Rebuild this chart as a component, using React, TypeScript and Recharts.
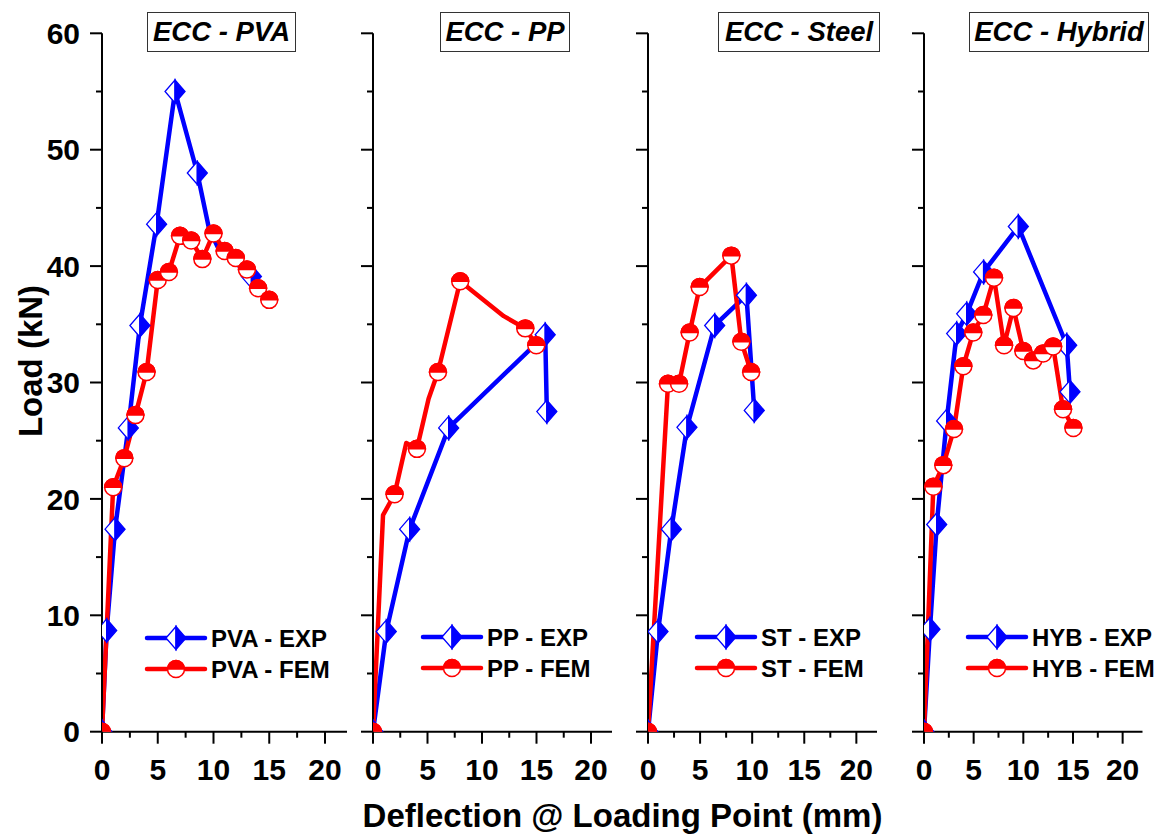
import React from 'react';
import { LineChart, Line, XAxis, YAxis, Legend } from 'recharts';

const BLUE = '#0000ff';
const RED = '#ff0000';
const FONT = '"Liberation Sans", Arial, Helvetica, sans-serif';

// ---- ECC - PVA ----
const pvaExpX = [0, 0.42, 1.17, 2.36, 3.4, 4.9, 6.55, 8.55, 9.6, 10.4, 13.4];
const pvaExpY = [0, 8.7, 17.4, 26.1, 34.9, 43.6, 55, 48, 43.2, 41.6, 39.1];
const pvaExpMarks = [1, 1, 1, 1, 1, 1, 1, 1, 0, 0, 1];
const pvaFemX = [0, 1, 2, 3, 4, 5, 6, 7, 8, 9, 10, 11, 12, 13, 14, 15];
const pvaFemY = [0, 21, 23.5, 27.2, 30.9, 38.8, 39.5, 42.6, 42.2, 40.6, 42.8, 41.3, 40.7, 39.7, 38.1, 37.1];

// ---- ECC - PP ----
const ppExpX = [0, 1.22, 3.36, 6.94, 15.8, 15.95];
const ppExpY = [0, 8.6, 17.4, 26.1, 34.1, 27.5];
const ppFemX = [0, 0.92, 1.98, 3.05, 4.03, 5.1, 5.96, 8.0, 12.0, 13.97, 14.98];
const ppFemY = [0, 18.6, 20.4, 24.8, 24.3, 28.6, 30.9, 38.7, 35.7, 34.65, 33.2];
const ppFemMarks = [1, 0, 1, 0, 1, 0, 1, 1, 0, 1, 1];

// ---- ECC - Steel ----
const stExpX = [0, 0.96, 2.24, 3.74, 6.4, 9.45, 10.2];
const stExpY = [0, 8.6, 17.4, 26.15, 34.9, 37.5, 27.6];
const stFemX = [0, 1.92, 2.98, 4.0, 4.96, 8.0, 8.96, 9.9];
const stFemY = [0, 29.9, 29.9, 34.3, 38.2, 40.9, 33.5, 30.9];

// ---- ECC - Hybrid ----
const hybExpX = [0, 0.6, 1.28, 2.28, 3.29, 4.3, 6.0, 9.5, 14.37, 14.7];
const hybExpY = [0, 8.8, 17.8, 26.7, 34.2, 35.9, 39.5, 43.4, 33.2, 29.2];
const hybFemX = [0, 0.94, 1.94, 3.02, 3.96, 4.96, 5.97, 7.05, 8.06, 9.0, 10.0, 11.0, 12.0, 13.0, 14.0, 15.04];
const hybFemY = [0, 21.05, 22.9, 26.0, 31.4, 34.3, 35.8, 39.0, 33.2, 36.4, 32.7, 31.9, 32.5, 33.1, 27.7, 26.1];

// ---- axes ----
const xTicks = [0, 2.5, 5, 7.5, 10, 12.5, 15, 17.5, 20];
const yTicks = [0, 5, 10, 15, 20, 25, 30, 35, 40, 45, 50, 55, 60];
const xDomain = [0, 22];
const yDomain = [0, 60];

type Pt = { x: number; y: number; m: boolean };
const toRows = (xs: number[], ys: number[], marks?: number[]): Pt[] =>
  xs.map((x, i) => ({ x, y: ys[i], m: marks ? marks[i] === 1 : true }));

const CHART_H = 836;
const PLOT_TOP = 33.3;
const PLOT_BOTTOM = 731.7;
const X_AXIS_H = 60;

const panels = [
  {
    key: 'pva', title: 'ECC - PVA', expName: 'PVA - EXP', femName: 'PVA - FEM',
    exp: toRows(pvaExpX, pvaExpY, pvaExpMarks), fem: toRows(pvaFemX, pvaFemY),
    plotLeft: 102, plotRight: 347.3, yw: 102, labelled: true,
    titleLeft: 147, titleWidth: 147, legendLeft: 146.7, legendTop: 622.7,
  },
  {
    key: 'pp', title: 'ECC - PP', expName: 'PP - EXP', femName: 'PP - FEM',
    exp: toRows(ppExpX, ppExpY), fem: toRows(ppFemX, ppFemY, ppFemMarks),
    plotLeft: 372.7, plotRight: 612.5, yw: 20, labelled: false,
    titleLeft: 440, titleWidth: 128, legendLeft: 423.3, legendTop: 622.3,
  },
  {
    key: 'st', title: 'ECC - Steel', expName: 'ST - EXP', femName: 'ST - FEM',
    exp: toRows(stExpX, stExpY), fem: toRows(stFemX, stFemY),
    plotLeft: 648.3, plotRight: 877.5, yw: 20, labelled: false,
    titleLeft: 718, titleWidth: 160, legendLeft: 696.7, legendTop: 622.3,
  },
  {
    key: 'hyb', title: 'ECC - Hybrid', expName: 'HYB - EXP', femName: 'HYB - FEM',
    exp: toRows(hybExpX, hybExpY), fem: toRows(hybFemX, hybFemY),
    plotLeft: 924, plotRight: 1142.5, yw: 20, labelled: false,
    titleLeft: 969, titleWidth: 178, legendLeft: 968.3, legendTop: 622.3,
  },
];

// ---- markers ----
const DIA_A = 10;
const DIA_B = 11.5;
const CIR_R = 8.5;

const diamondShape = (cx: number, cy: number) => (
  <>
    <polygon
      points={`${cx},${cy - DIA_B} ${cx - DIA_A},${cy} ${cx},${cy + DIA_B}`}
      fill="#fff" stroke={BLUE} strokeWidth={1.3}
    />
    <polygon
      points={`${cx},${cy - DIA_B} ${cx + DIA_A},${cy} ${cx},${cy + DIA_B}`}
      fill={BLUE} stroke={BLUE} strokeWidth={1.3}
    />
  </>
);

const circleShape = (cx: number, cy: number) => (
  <>
    <circle cx={cx} cy={cy} r={CIR_R} fill="#fff" stroke={RED} strokeWidth={1.5} />
    <path
      d={`M${cx - CIR_R},${cy} A${CIR_R},${CIR_R} 0 0 1 ${cx + CIR_R},${cy} Z`}
      fill={RED} stroke={RED} strokeWidth={1.5}
    />
  </>
);

const DiamondDot = (props: any) => {
  const { cx, cy, payload, index } = props;
  if (!payload || !payload.m || cx == null || cy == null) return <g key={`dd-${index}`} />;
  return <g key={`dd-${index}`}>{diamondShape(cx, cy)}</g>;
};

const CircleDot = (props: any) => {
  const { cx, cy, payload, index } = props;
  if (!payload || !payload.m || cx == null || cy == null) return <g key={`cd-${index}`} />;
  return <g key={`cd-${index}`}>{circleShape(cx, cy)}</g>;
};

// ---- ticks: long major ticks, short minor ticks ----
const XTick = (props: any) => {
  const { x, y, payload } = props;
  const v = payload.value;
  const major = v % 5 === 0;
  return (
    <g>
      <line x1={x} x2={x} y1={y} y2={y + (major ? 12 : 6)} stroke="#000" strokeWidth={2} />
      {major && (
        <text x={x} y={y + 48} textAnchor="middle" fontFamily={FONT} fontWeight="bold" fontSize={30} fill="#000">
          {v}
        </text>
      )}
    </g>
  );
};

const makeYTick = (labelled: boolean) => (props: any) => {
  const { x, y, payload } = props;
  const v = payload.value;
  const major = v % 10 === 0;
  return (
    <g>
      <line x1={x - (major ? 12 : 6)} x2={x} y1={y} y2={y} stroke="#000" strokeWidth={2} />
      {labelled && major && (
        <text x={x - 22} y={y + 10.7} textAnchor="end" fontFamily={FONT} fontWeight="bold" fontSize={30} fill="#000">
          {v}
        </text>
      )}
    </g>
  );
};

// ---- legend ----
const LegendBox = (props: any) => {
  const items = props.payload || [];
  return (
    <svg width={200} height={64} style={{ overflow: 'visible', display: 'block' }}>
      {items.map((it: any, i: number) => {
        const cy = 15 + i * 31;
        const isExp = it.color === BLUE;
        return (
          <g key={`lg-${i}`}>
            <line x1={0} x2={58} y1={cy} y2={cy} stroke={it.color} strokeWidth={4.5} strokeLinecap="round" />
            {isExp ? diamondShape(29, cy) : circleShape(29, cy)}
            <text x={64} y={cy + 8.6} fontFamily={FONT} fontWeight="bold" fontSize={24} fill="#000">
              {it.value}
            </text>
          </g>
        );
      })}
    </svg>
  );
};

const Panel = ({ p }: { p: (typeof panels)[number] }) => {
  const chartLeft = p.plotLeft - p.yw;
  const width = p.plotRight - chartLeft;
  return (
    <div style={{ position: 'absolute', left: chartLeft, top: 0 }}>
      <LineChart
        width={width}
        height={CHART_H}
        margin={{ top: PLOT_TOP, right: 0, bottom: CHART_H - PLOT_BOTTOM - X_AXIS_H, left: 0 }}
      >
        <XAxis
          type="number"
          dataKey="x"
          domain={xDomain}
          ticks={xTicks}
          interval={0}
          allowDataOverflow
          height={X_AXIS_H}
          tickLine={false}
          tickSize={0}
          tickMargin={0}
          tick={XTick}
          axisLine={{ stroke: '#000', strokeWidth: 2 }}
        />
        <YAxis
          type="number"
          domain={yDomain}
          ticks={yTicks}
          interval={0}
          allowDataOverflow
          width={p.yw}
          tickLine={false}
          tickSize={0}
          tickMargin={0}
          tick={makeYTick(p.labelled)}
          axisLine={{ stroke: '#000', strokeWidth: 2 }}
        />
        <Legend
          layout="vertical"
          align="center"
          verticalAlign="middle"
          wrapperStyle={{ left: p.legendLeft - chartLeft, top: p.legendTop, width: 200, height: 64 }}
          content={LegendBox}
        />
        <Line
          data={p.exp}
          dataKey="y"
          name={p.expName}
          type="linear"
          stroke={BLUE}
          strokeWidth={4.5}
          strokeLinejoin="round"
          dot={DiamondDot}
          activeDot={false}
          isAnimationActive={false}
        />
        <Line
          data={p.fem}
          dataKey="y"
          name={p.femName}
          type="linear"
          stroke={RED}
          strokeWidth={4.5}
          strokeLinejoin="round"
          dot={CircleDot}
          activeDot={false}
          isAnimationActive={false}
        />
      </LineChart>
    </div>
  );
};

export default function App() {
  return (
    <div
      style={{
        position: 'absolute', left: 0, top: 0, width: 1161, height: 836,
        background: '#fff', fontFamily: FONT, overflow: 'hidden',
      }}
    >
      {panels.map((p) => (
        <Panel key={p.key} p={p} />
      ))}
      {panels.map((p) => (
        <div
          key={`t-${p.key}`}
          style={{
            position: 'absolute', left: p.titleLeft, top: 12, width: p.titleWidth, height: 38,
            border: '1px solid #333', background: '#fff', boxSizing: 'content-box',
            textAlign: 'center', lineHeight: '38px', fontSize: 27.5, fontWeight: 'bold',
            fontStyle: 'italic', color: '#000', whiteSpace: 'nowrap',
          }}
        >
          {p.title}
        </div>
      ))}
      <svg
        width={1161}
        height={836}
        style={{ position: 'absolute', left: 0, top: 0, pointerEvents: 'none' }}
      >
        <text x={622.5} y={827} textAnchor="middle" fontFamily={FONT} fontWeight="bold" fontSize={33} fill="#000">
          Deflection @ Loading Point (mm)
        </text>
        <text
          x={42}
          y={361}
          transform="rotate(-90 42 361)"
          textAnchor="middle"
          fontFamily={FONT}
          fontWeight="bold"
          fontSize={33}
          fill="#000"
        >
          Load (kN)
        </text>
      </svg>
    </div>
  );
}
